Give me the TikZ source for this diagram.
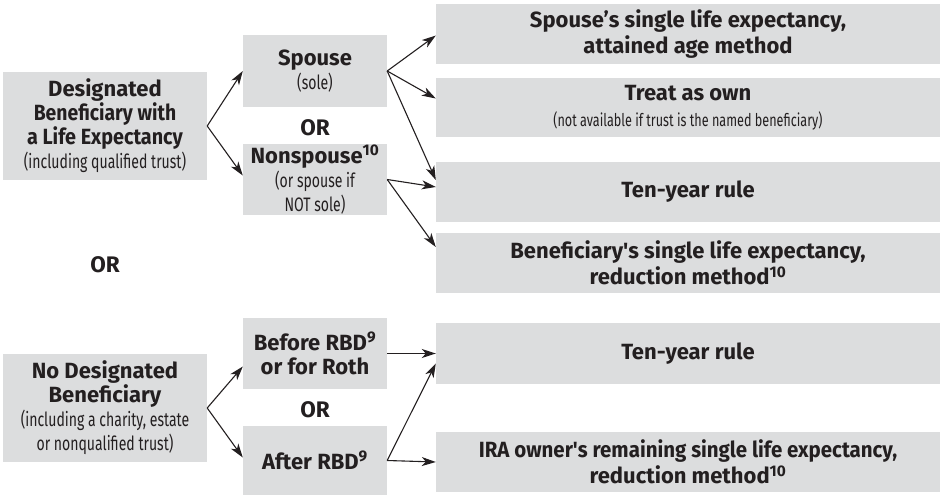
\documentclass[tikz,border=0pt]{standalone}
\usepackage{fontspec}
\usepackage{graphicx}
\setmainfont{Fira Sans}
\newfontfamily\condfont[FakeStretch=0.72]{Fira Sans}
\usetikzlibrary{arrows.meta}
\definecolor{boxgray}{HTML}{DCDDDE}
\definecolor{ink}{HTML}{231F20}
\begin{document}
\begin{tikzpicture}[x=1pt,y=-1pt,
        box/.style={fill=boxgray,text=ink,align=center,inner sep=0pt,
            font=\fontsize{22}{24}\selectfont\bfseries},
        leftbox/.style={box,minimum width=204,minimum height=108},
        midbox/.style={box,minimum width=144,minimum height=71},
        rightbox/.style={box,minimum width=504,minimum height=60,
            font=\fontsize{22}{26}\selectfont\bfseries},
        ortext/.style={text=ink,font=\fontsize{22.5}{24}\selectfont\bfseries},
        conn/.style={draw=ink,line width=1.1,-{Stealth[length=14,width=9,inset=4]}}]
\useasboundingbox (0,0) rectangle (944,495);
\newcommand{\sub}[1]{{\condfont\mdseries\fontsize{19.5}{21}\selectfont #1}}
\newcommand{\squeeze}[2]{\scalebox{#1}[1]{#2}}

% first group
\node[leftbox] (desig) at (105,126) {Designated\\\squeeze{0.88}{Beneficiary with}\\\squeeze{0.9}{a Life Expectancy}\\\sub{(including qualified trust)}};
\node[midbox,minimum height=72] (spouse) at (315,71) {Spouse\\\sub{(sole)}};
\node[ortext] (or1) at (315,128) {OR};
\node[midbox] (nonsp) at (315,179.5) {Nonspouse\textsuperscript{10}\\\sub{(or spouse if}\\\sub{NOT sole)}};

\node[rightbox,minimum height=59] (attained) at (688,34) {Spouse’s single life expectancy,\\attained age method};
\node[rightbox,minimum height=59] (own) at (688,107.5) {Treat as own\\\scalebox{0.9}{\sub{(not available if trust is the named beneficiary)}}};
\node[rightbox] (tenA) at (688,192) {Ten-year rule};
\node[rightbox] (benle) at (688,263) {Beneficiary\textquotesingle s single life expectancy,\\reduction method\textsuperscript{10}};

\node[ortext] (or0) at (105,265) {OR};

% second group
\node[leftbox] (nodesig) at (105,408) {No Designated\\Beneficiary\\\sub{(including a charity, estate}\\\sub{or nonqualified trust)}};
\node[midbox] (before) at (315,353.5) {Before RBD\textsuperscript{9}\\or for Roth};
\node[ortext] (or2) at (315,410) {OR};
\node[midbox,minimum height=69] (after) at (315,460.5) {After RBD\textsuperscript{9}};

\node[rightbox,minimum height=61] (tenB) at (688,353.5) {Ten-year rule};
\node[rightbox] (owner) at (688,462) {\squeeze{0.93}{IRA owner\textquotesingle s remaining single life expectancy,}\\reduction method\textsuperscript{10}};

\draw[conn] (desig.east) -- (spouse.west);
\draw[conn] (desig.east) -- ([yshift=4pt]nonsp.west);

\draw[conn] (spouse.east) -- ([yshift=-1.5pt]attained.west);
\draw[conn] (spouse.east) -- ([yshift=9pt]own.west);
\draw[conn] (spouse.east) -- ([yshift=12pt]tenA.west);
\draw[conn] (nonsp.east) -- ([yshift=5pt]tenA.west);
\draw[conn] (nonsp.east) -- ([yshift=16pt]benle.west);

\draw[conn] (nodesig.east) -- ([yshift=-13pt]before.west);
\draw[conn] (nodesig.east) -- ([yshift=3pt]after.west);

\draw[conn] (before.east) -- (tenB.west);
\draw[conn] (after.east) -- ([yshift=-10pt]tenB.west);
\draw[conn] (after.east) -- (owner.west);
\end{tikzpicture}
\end{document}
